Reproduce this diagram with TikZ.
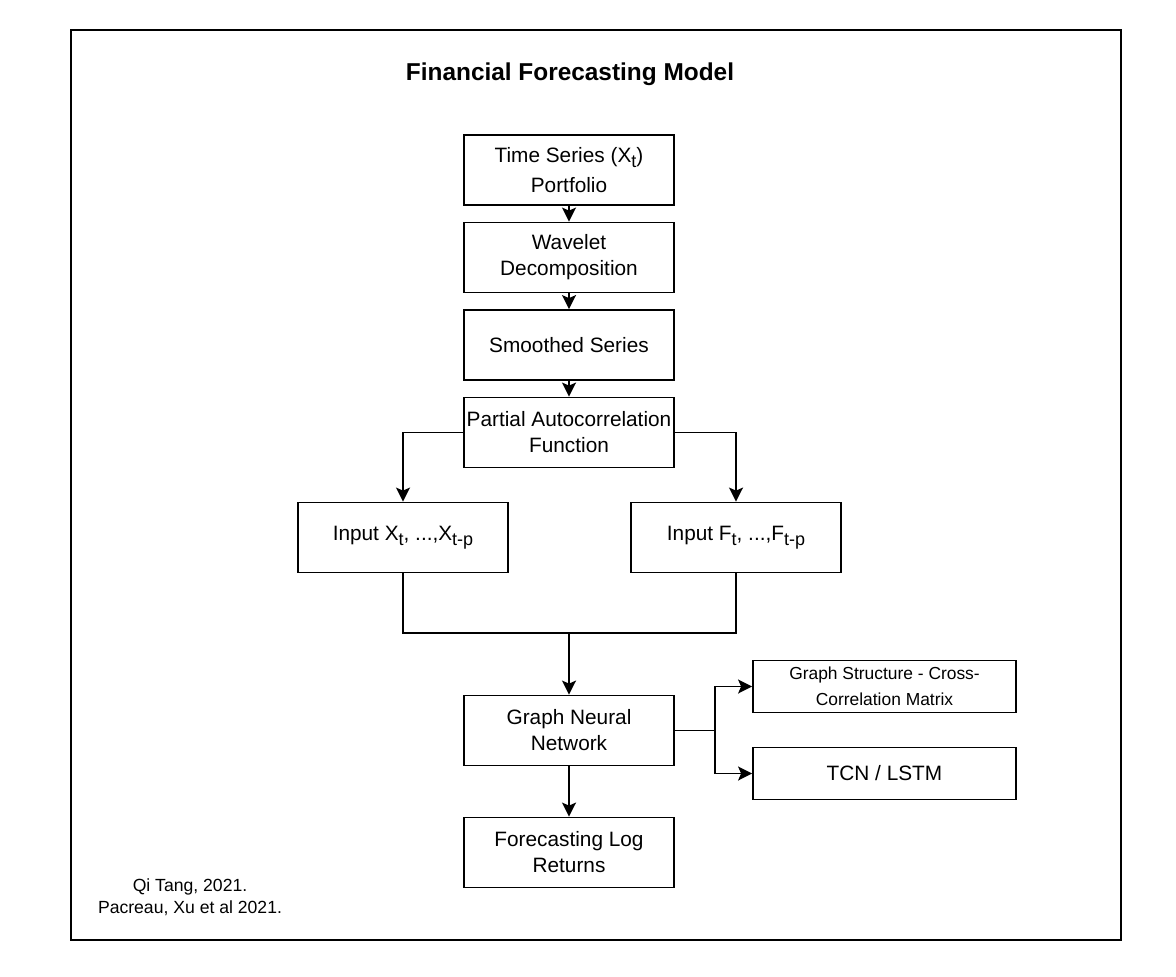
\documentclass[tikz,border=0pt]{standalone}
\usepackage{fontspec}
\setmainfont{Liberation Sans}
\usetikzlibrary{positioning, calc, arrows.meta}

\newcommand{\lowsub}[1]{\raisebox{-0.45ex}{\fontsize{9}{10}\selectfont #1}}

\tikzset{
  box/.style={draw, line width=0.9pt, minimum width=105pt, minimum height=35pt,
    inner sep=1pt, align=center, font=\fontsize{10.4}{13}\selectfont},
  sidebox/.style={box, minimum width=131.5pt, minimum height=26pt},
  arr/.style={-{Stealth[length=7pt,width=7pt,inset=1.5pt]}, line width=0.9pt},
  line/.style={line width=0.9pt}
}

\begin{document}
\begin{tikzpicture}[x=0.5pt, y=-0.5pt, on grid, node distance=43.75pt]
        \useasboundingbox (0,0) rectangle (1176,977);
        \draw[line] (71,30) rectangle (1121,940);

        \node (title) at (570,74) {\fontsize{12.2}{14}\selectfont\bfseries Financial Forecasting Model};

        \node (ts)    [box] at (569,170)  {Time Series (X\lowsub{t})\\[2pt] Portfolio};
        \node (wav)   [box, below=of ts]  {Wavelet\\ Decomposition};
        \node (sm)    [box, below=of wav] {Smoothed Series};
        \node (pacf)  [box, below=of sm]  {Partial Autocorrelation\\ Function};
        \node (inx)   [box, below left=52.5pt and 83pt of pacf]   {Input X\lowsub{t}, ...,X\lowsub{t-p}};
        \node (inf)   [box, below right=52.5pt and 83.5pt of pacf] {Input F\lowsub{t}, ...,F\lowsub{t-p}};
        \node (gnn)   [box, below=149pt of pacf] {Graph Neural\\ Network};
        \node (fc)    [box, below=61pt of gnn]   {Forecasting Log\\ Returns};
        \node (gs)    [sidebox, above right=22pt and 157.75pt of gnn]
              {\fontsize{8.7}{13.5}\selectfont Graph Structure - Cross-\\ \fontsize{8.7}{13.5}\selectfont Correlation Matrix};
        \node (tcn)   [sidebox, below right=21.5pt and 157.75pt of gnn] {TCN / LSTM};

        \node (cite) [align=center, font=\fontsize{8.8}{11}\selectfont] at (190,897)
              {Qi Tang, 2021.\\ Pacreau, Xu et al 2021.};

        \coordinate (join) at ($(gnn.north)+(0,31pt)$);
        \coordinate (fork) at ($(gnn.east)+(20pt,0)$);

        \draw[arr] (ts) -- (wav);
        \draw[arr] (wav) -- (sm);
        \draw[arr] (sm) -- (pacf);
        \draw[arr] (pacf.west) -| (inx);
        \draw[arr] (pacf.east) -| (inf);
        \draw[line] (inx.south) |- (join) -| (inf.south);
        \draw[arr] (join) -- (gnn);
        \draw[arr] (gnn) -- (fc);
        \draw[line] (gnn.east) -- (fork);
        \draw[arr] (fork) |- (gs);
        \draw[arr] (fork) |- (tcn);
    \end{tikzpicture}
\end{document}
